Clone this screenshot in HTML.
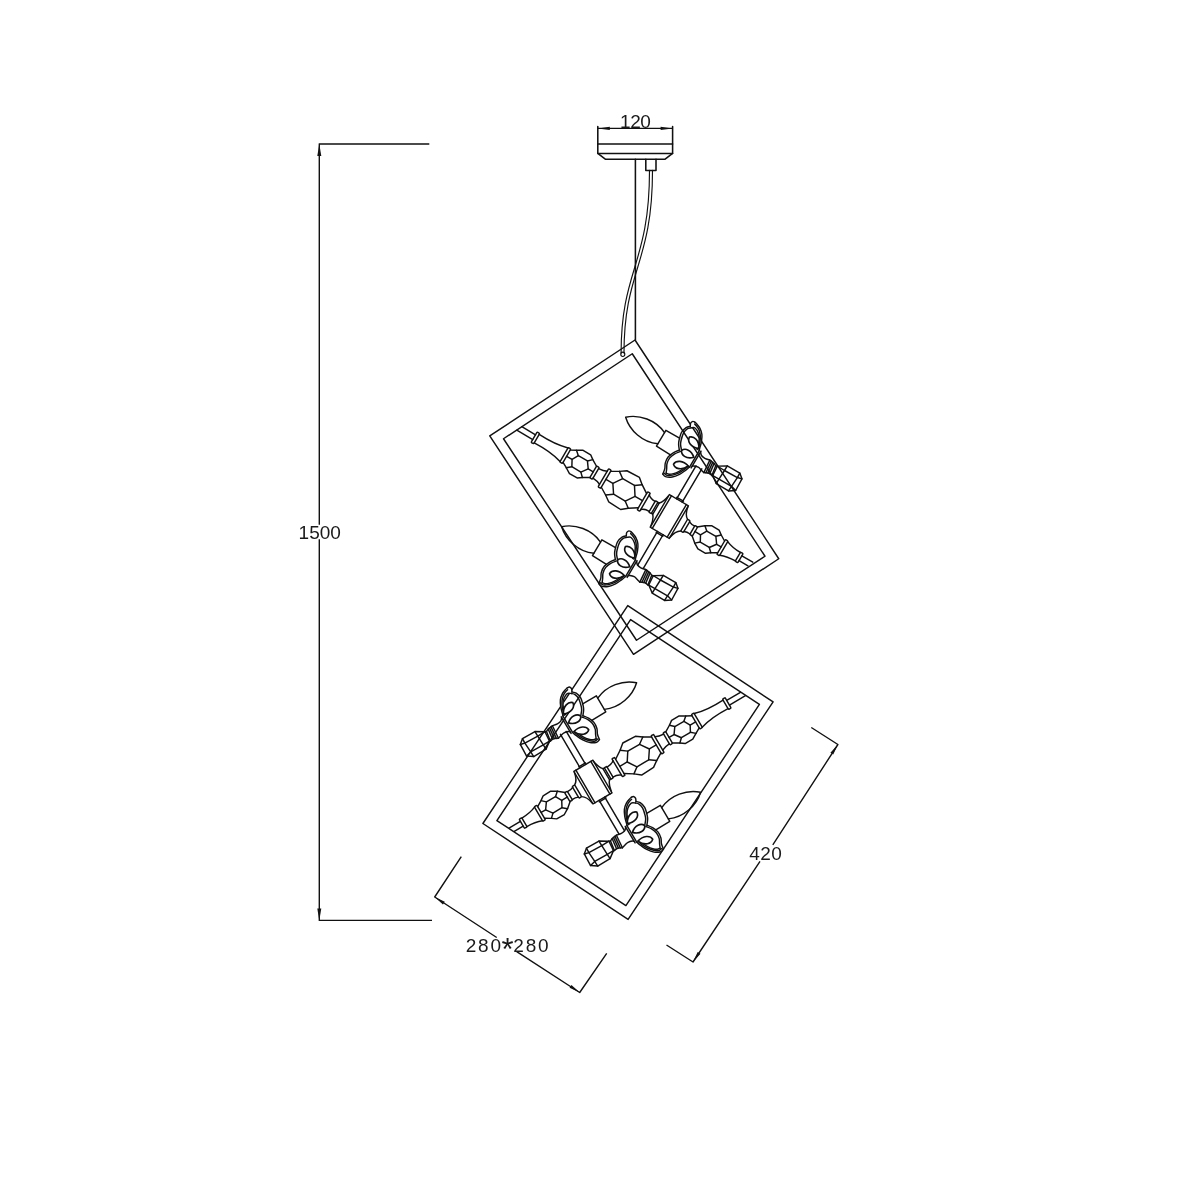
<!DOCTYPE html>
<html lang="en">
<head>
<meta charset="utf-8">
<title>Pendant lamp dimension drawing</title>
<style>
html,body{margin:0;padding:0;background:#fff;}
body{width:1200px;height:1200px;overflow:hidden;}
svg{display:block;will-change:transform;}
svg path,svg rect,svg ellipse{fill:none;stroke:#111;stroke-width:1.45;stroke-linejoin:round;stroke-linecap:round;}
svg .can path{stroke-width:1.55;}
svg .ast{font-size:31px;letter-spacing:-1.5px;}
svg path.sil{fill:#fff;stroke:none;}
svg path.pet{fill:#fff;stroke-width:1.65;}
svg path.arr{fill:#111;stroke:none;}
svg .dim path{stroke-width:1.4;stroke-linecap:butt;}
svg .cab path, svg .cab ellipse{stroke-width:1.15;}
svg text{font-family:"Liberation Sans",sans-serif;font-size:19px;fill:#1a1a1a;}
</style>
</head>
<body>
<svg width="1200" height="1200" viewBox="0 0 1200 1200">
<rect x="0" y="0" width="1200" height="1200" style="fill:#fff;stroke:none"/>
<g class="lamp">
<path d="M635,340 L778.75,558.75 L633.5,654.3 L489.75,435.9Z"/>
<path d="M632.25,353.75 L765,556.25 L636.5,640.25 L503.5,438.75Z"/>
<g transform="translate(634.78,496.23) rotate(30.4)">
<path d="M-132.6,-2.8 L-116.7,-2.8 M-135.2,2.7 L-116.7,2.7"/>
<path d="M122.5,-2.8 L135.2,-2.8 M122.5,2.7 L132.8,2.7"/>
<rect x="-116.7" y="-6" width="3" height="12" rx="0.8"/>
<path d="M-113.7,-4.9 Q-95,-4 -82,-7.9 M-113.7,4.9 Q-95,4 -82,7.9"/>
<rect x="-82" y="-8.4" width="3" height="16.8" rx="0.8"/>
<path d="M-79,-7.1 L-73.5,-10.1 L-67.8,-13.5 L-59,-13.4 L-54.7,-10.3 L-48.2,-6.5"/>
<path d="M-48.2,6.5 L-54.7,10.3 L-59,13.4 L-67.8,13.5 L-73.5,10.1 L-79,7.1"/>
<path d="M-72.7,0 L-69.2,-6.4 L-58.7,-6.5 L-54,0 L-58.7,6.5 L-69.2,6.4Z"/>
<path d="M-72.7,0 L-79,0 M-54,0 L-48.2,0 M-69.2,-6.4 L-73.5,-10.1 M-58.7,-6.5 L-54.7,-10.3 M-69.2,6.4 L-73.5,10.1 M-58.7,6.5 L-54.7,10.3"/>
<rect x="-48.2" y="-6.9" width="3" height="13.8" rx="0.8"/>
<path d="M-45.2,-5.6 Q-40,-5.8 -36.4,-7.7 M-45.2,5.6 Q-40,5.8 -36.4,7.7"/>
<rect x="-36.4" y="-10.5" width="3" height="21" rx="0.8"/>
<path d="M-33.4,-9.2 L-25.8,-13.7 L-19.7,-18 L-5.5,-18.6 L0.5,-13.7 L8.9,-8.2"/>
<path d="M8.9,8.2 L0.5,13.7 L-5.5,18.6 L-19.7,18 L-25.8,13.7 L-33.4,9.2"/>
<path d="M-25.4,0 L-19.3,-9 L-5.7,-9.1 L0.3,0 L-5.7,9.1 L-19.3,9Z"/>
<path d="M-25.4,0 L-33.4,0 M0.3,0 L8.9,0 M-19.3,-9 L-25.8,-13.7 M-5.7,-9.1 L0.5,-13.7 M-19.3,9 L-25.8,13.7 M-5.7,9.1 L0.5,13.7"/>
<rect x="8.9" y="-10.4" width="3" height="20.8" rx="0.8"/>
<path d="M11.9,-8.4 Q15,-5.6 20.2,-5.8 M11.9,8.4 Q15,5.6 20.2,5.8"/>
<rect x="20.2" y="-6.6" width="2.8" height="13.2" rx="0.8"/>
<path d="M23,-6.4 L24.6,-6.4 M23,6.4 L24.6,6.4 M24.6,-6.6 L24.6,6.6"/>
<path d="M24.6,-6.6 Q27.6,-9.3 28.9,-17.2 M24.6,6.6 Q27.6,9.3 28.9,17.2"/>
<rect x="29" y="-18.9" width="22.1" height="37.8"/>
<path d="M31.4,-18.9 L31.4,18.9 M48.7,-18.9 L48.7,18.9"/>
<path d="M51.2,-17.6 Q52.6,-9.4 57.2,-6.8 M51.2,17.6 Q52.6,9.4 57.2,6.8"/>
<rect x="57.2" y="-6.8" width="3" height="13.6" rx="0.8"/>
<path d="M60.2,-5.6 Q63,-4.2 66.8,-4.6 M60.2,5.6 Q63,4.2 66.8,4.6"/>
<rect x="66.8" y="-5.2" width="3" height="10.4" rx="0.8"/>
<path d="M69.3,-5 L75.4,-10.1 L81.1,-13.5 L89.9,-13.4 L94.2,-10.3 L100.1,-6.8"/>
<path d="M100.1,6.8 L94.2,10.3 L89.9,13.4 L81.1,13.5 L75.4,10.1 L69.3,5"/>
<path d="M76.2,0 L79.7,-6.4 L90.2,-6.5 L94.9,0 L90.2,6.5 L79.7,6.4Z"/>
<path d="M76.2,0 L69.5,0 M94.9,0 L100.1,0 M79.7,-6.4 L75.4,-10.1 M90.2,-6.5 L94.2,-10.3 M79.7,6.4 L75.4,10.1 M90.2,6.5 L94.2,10.3"/>
<rect x="100.1" y="-8.5" width="3" height="17" rx="0.8"/>
<path d="M103.1,-7.9 Q110,-5 119.5,-4.9 M103.1,7.9 Q110,5 119.5,4.9"/>
<rect x="119.5" y="-5.3" width="3" height="10.6" rx="0.8"/>
<path d="M37.4,-18.9 L37.4,-57.2 M43.9,-18.9 L43.9,-57.6 M37.4,18.9 L37.4,58 M43.9,18.9 L43.9,57.6"/>
<path d="M36.8,-20.3 L44.5,-20.3 M36.8,20.3 L44.5,20.3"/>
</g>
<g transform="translate(597.2,547.7) rotate(30.6)">
<path d="M0,-6.5 C-14,-13 -31,-9.5 -41.3,0 C-31,9.5 -14,13 0,6.5"/>
<path d="M15.8,-9.3 L0,-9.2 L0,9.3 L16.4,9.6"/>
<path class="sil" d="M19,-25 C18.78,-25.52 17.75,-27.17 17.7,-28.1 C17.65,-29.03 18.18,-30.13 18.7,-30.6 C19.22,-31.07 20.07,-30.93 20.8,-30.9 C21.53,-30.87 21.88,-30.82 23.1,-30.4 C24.32,-29.98 26.45,-29.45 28.1,-28.4 C29.75,-27.35 31.63,-25.87 33,-24.1 C34.37,-22.33 35.43,-19.95 36.3,-17.8 C37.17,-15.65 37.78,-12.73 38.2,-11.2 C38.62,-9.67 38.7,-9.03 38.8,-8.6 L36,-8.8 L35.5,-12.5 L33.2,-18.6 L29.5,-23.2 L23.9,-26 L20.3,-24Z"/>
<path d="M21.7,1 C21.13,0.28 19.17,-1.95 18.3,-3.3 C17.43,-4.65 17.13,-5.07 16.5,-7.1 C15.87,-9.13 14.58,-13.05 14.5,-15.5 C14.42,-17.95 15.25,-20.22 16,-21.8 C16.75,-23.38 18.5,-24.47 19,-25"/>
<path d="M23.5,-0.1 C22.92,-0.8 20.87,-2.97 20,-4.3 C19.13,-5.63 18.87,-6.17 18.3,-8.1 C17.73,-10.03 16.7,-13.72 16.6,-15.9 C16.5,-18.08 17.08,-19.85 17.7,-21.2 C18.32,-22.55 19.87,-23.53 20.3,-24"/>
<path d="M19,-25 C18.78,-25.52 17.75,-27.17 17.7,-28.1 C17.65,-29.03 18.18,-30.13 18.7,-30.6 C19.22,-31.07 20.45,-30.85 20.8,-30.9"/>
<path d="M20.8,-30.9 C21.18,-30.82 21.88,-30.82 23.1,-30.4 C24.32,-29.98 26.45,-29.45 28.1,-28.4 C29.75,-27.35 31.63,-25.87 33,-24.1 C34.37,-22.33 35.43,-19.95 36.3,-17.8 C37.17,-15.65 37.78,-12.73 38.2,-11.2 C38.62,-9.67 38.7,-9.03 38.8,-8.6"/>
<path d="M21.6,-29.2 C21.98,-29.1 22.83,-29.03 23.9,-28.6 C24.97,-28.17 26.65,-27.6 28,-26.6 C29.35,-25.6 30.83,-24.17 32,-22.6 C33.17,-21.03 34.2,-19.07 35,-17.2 C35.8,-15.33 36.43,-12.8 36.8,-11.4 C37.17,-10 37.13,-9.23 37.2,-8.8"/>
<path d="M20.3,-24 C20.9,-24.33 22.37,-26.13 23.9,-26 C25.43,-25.87 27.95,-24.43 29.5,-23.2 C31.05,-21.97 32.2,-20.38 33.2,-18.6 C34.2,-16.82 35.03,-14.13 35.5,-12.5 C35.97,-10.87 35.92,-9.42 36,-8.8"/>
<path d="M21.7,1 C21.08,1.83 19.02,4.1 18,6 C16.98,7.9 15.92,10.22 15.6,12.4 C15.28,14.58 15.6,17.1 16.1,19.1 C16.6,21.1 18.02,22.58 18.6,24.4 C19.18,26.22 19.43,29.07 19.6,30"/>
<path d="M23.3,1.6 C22.68,2.43 20.58,4.77 19.6,6.6 C18.62,8.43 17.68,10.57 17.4,12.6 C17.12,14.63 17.42,16.97 17.9,18.8 C18.38,20.63 19.62,22.13 20.3,23.6 C20.98,25.07 21.72,26.93 22,27.6"/>
<path d="M19.6,30 C20.22,30.15 21.7,31.27 23.3,30.9 C24.9,30.53 27.38,29.32 29.2,27.8 C31.02,26.28 32.85,23.88 34.2,21.8 C35.55,19.72 36.48,17.23 37.3,15.3 C38.12,13.37 38.8,11.05 39.1,10.2"/>
<path d="M20.6,28.6 C21.17,28.67 22.67,29.43 24,29 C25.33,28.57 27.1,27.37 28.6,26 C30.1,24.63 31.77,22.67 33,20.8 C34.23,18.93 35.23,16.57 36,14.8 C36.77,13.03 37.33,10.97 37.6,10.2"/>
<path d="M22,27.6 C22.5,27.5 23.9,27.57 25,27 C26.1,26.43 27.43,25.4 28.6,24.2 C29.77,23 31,21.43 32,19.8 C33,18.17 33.93,16.03 34.6,14.4 C35.27,12.77 35.77,10.73 36,10"/>
<path class="pet" d="M-7.4,0 C-5.55,-4.44 1.48,-5.55 7.4,-0.37 C1.48,5.55 -5.55,4.44 -7.4,0Z" transform="translate(30.6,-12.7) rotate(21)"/>
<path class="pet" d="M-7,0 C-5.25,-4.32 1.4,-5.4 7,-0.36 C1.4,5.4 -5.25,4.32 -7,0Z" transform="translate(30.8,0.2) rotate(0)"/>
<path class="pet" d="M-7.4,0 C-5.55,-4.32 1.48,-5.4 7.4,-0.36 C1.48,5.4 -5.55,4.32 -7.4,0Z" transform="translate(30.7,13.3) rotate(-22)"/>
<path d="M39.1,-9.3 L39.1,10.2 M40.9,-9.1 L40.9,10.3"/>
<path d="M40.9,-8.2 C41.33,-7.77 42.35,-6.15 43.5,-5.6 C44.65,-5.05 46.22,-4.85 47.8,-4.9 C49.38,-4.95 52.13,-5.73 53,-5.9"/>
<path d="M40.9,8.4 C41.13,8.2 41.35,7.58 42.3,7.2 C43.25,6.82 45.27,6.17 46.6,6.1 C47.93,6.03 49.03,6.5 50.3,6.8 C51.57,7.1 53.55,7.72 54.2,7.9"/>
<path d="M53,-5.9 L54.2,7.9 M54.8,-5.9 L56.1,7.0 M56.6,-5.7 L57.9,6.2 M58.4,-5.2 L59.8,5.8"/>
<path d="M53,-5.9 L58.4,-5.2 L61,-4.0 L62.5,-4.5 M54.2,7.9 L57.9,6.2 L59.8,5.8 L62.6,6.3 L63.4,5.9"/>
<path d="M61,-4.0 L62.6,6.3"/>
<path d="M62.5,-4.5 L71,-9.8 L85.4,-10 L90.2,-6.1 L90.7,7.1 L84.8,11.1 L70.4,11 L63.4,5.9Z"/>
<path d="M71,-9.8 L70.9,-4.4 L70.6,5.9 L70.4,11 M85.4,-10 L85.6,-4.9 L85,5.6 L84.8,11.1"/>
<path d="M62.5,-4.5 L70.9,-4.4 L85.6,-4.9 L90.2,-6.1 M63.4,5.9 L70.6,5.9 L85,5.6 L90.7,7.1"/>
</g>
<g transform="translate(661.2,438.2) rotate(30.6)">
<path d="M0,-6.5 C-14,-13 -31,-9.5 -41.3,0 C-31,9.5 -14,13 0,6.5"/>
<path d="M15.8,-9.3 L0,-9.2 L0,9.3 L16.4,9.6"/>
<path class="sil" d="M19,-25 C18.78,-25.52 17.75,-27.17 17.7,-28.1 C17.65,-29.03 18.18,-30.13 18.7,-30.6 C19.22,-31.07 20.07,-30.93 20.8,-30.9 C21.53,-30.87 21.88,-30.82 23.1,-30.4 C24.32,-29.98 26.45,-29.45 28.1,-28.4 C29.75,-27.35 31.63,-25.87 33,-24.1 C34.37,-22.33 35.43,-19.95 36.3,-17.8 C37.17,-15.65 37.78,-12.73 38.2,-11.2 C38.62,-9.67 38.7,-9.03 38.8,-8.6 L36,-8.8 L35.5,-12.5 L33.2,-18.6 L29.5,-23.2 L23.9,-26 L20.3,-24Z"/>
<path d="M21.7,1 C21.13,0.28 19.17,-1.95 18.3,-3.3 C17.43,-4.65 17.13,-5.07 16.5,-7.1 C15.87,-9.13 14.58,-13.05 14.5,-15.5 C14.42,-17.95 15.25,-20.22 16,-21.8 C16.75,-23.38 18.5,-24.47 19,-25"/>
<path d="M23.5,-0.1 C22.92,-0.8 20.87,-2.97 20,-4.3 C19.13,-5.63 18.87,-6.17 18.3,-8.1 C17.73,-10.03 16.7,-13.72 16.6,-15.9 C16.5,-18.08 17.08,-19.85 17.7,-21.2 C18.32,-22.55 19.87,-23.53 20.3,-24"/>
<path d="M19,-25 C18.78,-25.52 17.75,-27.17 17.7,-28.1 C17.65,-29.03 18.18,-30.13 18.7,-30.6 C19.22,-31.07 20.45,-30.85 20.8,-30.9"/>
<path d="M20.8,-30.9 C21.18,-30.82 21.88,-30.82 23.1,-30.4 C24.32,-29.98 26.45,-29.45 28.1,-28.4 C29.75,-27.35 31.63,-25.87 33,-24.1 C34.37,-22.33 35.43,-19.95 36.3,-17.8 C37.17,-15.65 37.78,-12.73 38.2,-11.2 C38.62,-9.67 38.7,-9.03 38.8,-8.6"/>
<path d="M21.6,-29.2 C21.98,-29.1 22.83,-29.03 23.9,-28.6 C24.97,-28.17 26.65,-27.6 28,-26.6 C29.35,-25.6 30.83,-24.17 32,-22.6 C33.17,-21.03 34.2,-19.07 35,-17.2 C35.8,-15.33 36.43,-12.8 36.8,-11.4 C37.17,-10 37.13,-9.23 37.2,-8.8"/>
<path d="M20.3,-24 C20.9,-24.33 22.37,-26.13 23.9,-26 C25.43,-25.87 27.95,-24.43 29.5,-23.2 C31.05,-21.97 32.2,-20.38 33.2,-18.6 C34.2,-16.82 35.03,-14.13 35.5,-12.5 C35.97,-10.87 35.92,-9.42 36,-8.8"/>
<path d="M21.7,1 C21.08,1.83 19.02,4.1 18,6 C16.98,7.9 15.92,10.22 15.6,12.4 C15.28,14.58 15.6,17.1 16.1,19.1 C16.6,21.1 18.02,22.58 18.6,24.4 C19.18,26.22 19.43,29.07 19.6,30"/>
<path d="M23.3,1.6 C22.68,2.43 20.58,4.77 19.6,6.6 C18.62,8.43 17.68,10.57 17.4,12.6 C17.12,14.63 17.42,16.97 17.9,18.8 C18.38,20.63 19.62,22.13 20.3,23.6 C20.98,25.07 21.72,26.93 22,27.6"/>
<path d="M19.6,30 C20.22,30.15 21.7,31.27 23.3,30.9 C24.9,30.53 27.38,29.32 29.2,27.8 C31.02,26.28 32.85,23.88 34.2,21.8 C35.55,19.72 36.48,17.23 37.3,15.3 C38.12,13.37 38.8,11.05 39.1,10.2"/>
<path d="M20.6,28.6 C21.17,28.67 22.67,29.43 24,29 C25.33,28.57 27.1,27.37 28.6,26 C30.1,24.63 31.77,22.67 33,20.8 C34.23,18.93 35.23,16.57 36,14.8 C36.77,13.03 37.33,10.97 37.6,10.2"/>
<path d="M22,27.6 C22.5,27.5 23.9,27.57 25,27 C26.1,26.43 27.43,25.4 28.6,24.2 C29.77,23 31,21.43 32,19.8 C33,18.17 33.93,16.03 34.6,14.4 C35.27,12.77 35.77,10.73 36,10"/>
<path class="pet" d="M-7.4,0 C-5.55,-4.44 1.48,-5.55 7.4,-0.37 C1.48,5.55 -5.55,4.44 -7.4,0Z" transform="translate(30.6,-12.7) rotate(21)"/>
<path class="pet" d="M-7,0 C-5.25,-4.32 1.4,-5.4 7,-0.36 C1.4,5.4 -5.25,4.32 -7,0Z" transform="translate(30.8,0.2) rotate(0)"/>
<path class="pet" d="M-7.4,0 C-5.55,-4.32 1.48,-5.4 7.4,-0.36 C1.48,5.4 -5.55,4.32 -7.4,0Z" transform="translate(30.7,13.3) rotate(-22)"/>
<path d="M39.1,-9.3 L39.1,10.2 M40.9,-9.1 L40.9,10.3"/>
<path d="M40.9,-8.2 C41.33,-7.77 42.35,-6.15 43.5,-5.6 C44.65,-5.05 46.22,-4.85 47.8,-4.9 C49.38,-4.95 52.13,-5.73 53,-5.9"/>
<path d="M40.9,8.4 C41.13,8.2 41.35,7.58 42.3,7.2 C43.25,6.82 45.27,6.17 46.6,6.1 C47.93,6.03 49.03,6.5 50.3,6.8 C51.57,7.1 53.55,7.72 54.2,7.9"/>
<path d="M53,-5.9 L54.2,7.9 M54.8,-5.9 L56.1,7.0 M56.6,-5.7 L57.9,6.2 M58.4,-5.2 L59.8,5.8"/>
<path d="M53,-5.9 L58.4,-5.2 L61,-4.0 L62.5,-4.5 M54.2,7.9 L57.9,6.2 L59.8,5.8 L62.6,6.3 L63.4,5.9"/>
<path d="M61,-4.0 L62.6,6.3"/>
<path d="M62.5,-4.5 L71,-9.8 L85.4,-10 L90.2,-6.1 L90.7,7.1 L84.8,11.1 L70.4,11 L63.4,5.9Z"/>
<path d="M71,-9.8 L70.9,-4.4 L70.6,5.9 L70.4,11 M85.4,-10 L85.6,-4.9 L85,5.6 L84.8,11.1"/>
<path d="M62.5,-4.5 L70.9,-4.4 L85.6,-4.9 L90.2,-6.1 M63.4,5.9 L70.6,5.9 L85,5.6 L90.7,7.1"/>
</g>
</g>
<g class="lamp">
<path d="M627.75,605.6 L773.1,701.9 L628.1,919.4 L482.9,823.5Z"/>
<path d="M630.6,619.6 L759.4,704.4 L625.9,905.6 L496.9,820.6Z"/>
</g>
<g class="lamp" transform="translate(1262.25,265.6) scale(-1,1)">
<g transform="translate(634.78,496.23) rotate(30.4)">
<path d="M-132.6,-2.8 L-116.7,-2.8 M-135.2,2.7 L-116.7,2.7"/>
<path d="M122.5,-2.8 L135.2,-2.8 M122.5,2.7 L132.8,2.7"/>
<rect x="-116.7" y="-6" width="3" height="12" rx="0.8"/>
<path d="M-113.7,-4.9 Q-95,-4 -82,-7.9 M-113.7,4.9 Q-95,4 -82,7.9"/>
<rect x="-82" y="-8.4" width="3" height="16.8" rx="0.8"/>
<path d="M-79,-7.1 L-73.5,-10.1 L-67.8,-13.5 L-59,-13.4 L-54.7,-10.3 L-48.2,-6.5"/>
<path d="M-48.2,6.5 L-54.7,10.3 L-59,13.4 L-67.8,13.5 L-73.5,10.1 L-79,7.1"/>
<path d="M-72.7,0 L-69.2,-6.4 L-58.7,-6.5 L-54,0 L-58.7,6.5 L-69.2,6.4Z"/>
<path d="M-72.7,0 L-79,0 M-54,0 L-48.2,0 M-69.2,-6.4 L-73.5,-10.1 M-58.7,-6.5 L-54.7,-10.3 M-69.2,6.4 L-73.5,10.1 M-58.7,6.5 L-54.7,10.3"/>
<rect x="-48.2" y="-6.9" width="3" height="13.8" rx="0.8"/>
<path d="M-45.2,-5.6 Q-40,-5.8 -36.4,-7.7 M-45.2,5.6 Q-40,5.8 -36.4,7.7"/>
<rect x="-36.4" y="-10.5" width="3" height="21" rx="0.8"/>
<path d="M-33.4,-9.2 L-25.8,-13.7 L-19.7,-18 L-5.5,-18.6 L0.5,-13.7 L8.9,-8.2"/>
<path d="M8.9,8.2 L0.5,13.7 L-5.5,18.6 L-19.7,18 L-25.8,13.7 L-33.4,9.2"/>
<path d="M-25.4,0 L-19.3,-9 L-5.7,-9.1 L0.3,0 L-5.7,9.1 L-19.3,9Z"/>
<path d="M-25.4,0 L-33.4,0 M0.3,0 L8.9,0 M-19.3,-9 L-25.8,-13.7 M-5.7,-9.1 L0.5,-13.7 M-19.3,9 L-25.8,13.7 M-5.7,9.1 L0.5,13.7"/>
<rect x="8.9" y="-10.4" width="3" height="20.8" rx="0.8"/>
<path d="M11.9,-8.4 Q15,-5.6 20.2,-5.8 M11.9,8.4 Q15,5.6 20.2,5.8"/>
<rect x="20.2" y="-6.6" width="2.8" height="13.2" rx="0.8"/>
<path d="M23,-6.4 L24.6,-6.4 M23,6.4 L24.6,6.4 M24.6,-6.6 L24.6,6.6"/>
<path d="M24.6,-6.6 Q27.6,-9.3 28.9,-17.2 M24.6,6.6 Q27.6,9.3 28.9,17.2"/>
<rect x="29" y="-18.9" width="22.1" height="37.8"/>
<path d="M31.4,-18.9 L31.4,18.9 M48.7,-18.9 L48.7,18.9"/>
<path d="M51.2,-17.6 Q52.6,-9.4 57.2,-6.8 M51.2,17.6 Q52.6,9.4 57.2,6.8"/>
<rect x="57.2" y="-6.8" width="3" height="13.6" rx="0.8"/>
<path d="M60.2,-5.6 Q63,-4.2 66.8,-4.6 M60.2,5.6 Q63,4.2 66.8,4.6"/>
<rect x="66.8" y="-5.2" width="3" height="10.4" rx="0.8"/>
<path d="M69.3,-5 L75.4,-10.1 L81.1,-13.5 L89.9,-13.4 L94.2,-10.3 L100.1,-6.8"/>
<path d="M100.1,6.8 L94.2,10.3 L89.9,13.4 L81.1,13.5 L75.4,10.1 L69.3,5"/>
<path d="M76.2,0 L79.7,-6.4 L90.2,-6.5 L94.9,0 L90.2,6.5 L79.7,6.4Z"/>
<path d="M76.2,0 L69.5,0 M94.9,0 L100.1,0 M79.7,-6.4 L75.4,-10.1 M90.2,-6.5 L94.2,-10.3 M79.7,6.4 L75.4,10.1 M90.2,6.5 L94.2,10.3"/>
<rect x="100.1" y="-8.5" width="3" height="17" rx="0.8"/>
<path d="M103.1,-7.9 Q110,-5 119.5,-4.9 M103.1,7.9 Q110,5 119.5,4.9"/>
<rect x="119.5" y="-5.3" width="3" height="10.6" rx="0.8"/>
<path d="M37.4,-18.9 L37.4,-57.2 M43.9,-18.9 L43.9,-57.6 M37.4,18.9 L37.4,58 M43.9,18.9 L43.9,57.6"/>
<path d="M36.8,-20.3 L44.5,-20.3 M36.8,20.3 L44.5,20.3"/>
</g>
<g transform="translate(597.2,547.7) rotate(30.6)">
<path d="M0,-6.5 C-14,-13 -31,-9.5 -41.3,0 C-31,9.5 -14,13 0,6.5"/>
<path d="M15.8,-9.3 L0,-9.2 L0,9.3 L16.4,9.6"/>
<path class="sil" d="M19,-25 C18.78,-25.52 17.75,-27.17 17.7,-28.1 C17.65,-29.03 18.18,-30.13 18.7,-30.6 C19.22,-31.07 20.07,-30.93 20.8,-30.9 C21.53,-30.87 21.88,-30.82 23.1,-30.4 C24.32,-29.98 26.45,-29.45 28.1,-28.4 C29.75,-27.35 31.63,-25.87 33,-24.1 C34.37,-22.33 35.43,-19.95 36.3,-17.8 C37.17,-15.65 37.78,-12.73 38.2,-11.2 C38.62,-9.67 38.7,-9.03 38.8,-8.6 L36,-8.8 L35.5,-12.5 L33.2,-18.6 L29.5,-23.2 L23.9,-26 L20.3,-24Z"/>
<path d="M21.7,1 C21.13,0.28 19.17,-1.95 18.3,-3.3 C17.43,-4.65 17.13,-5.07 16.5,-7.1 C15.87,-9.13 14.58,-13.05 14.5,-15.5 C14.42,-17.95 15.25,-20.22 16,-21.8 C16.75,-23.38 18.5,-24.47 19,-25"/>
<path d="M23.5,-0.1 C22.92,-0.8 20.87,-2.97 20,-4.3 C19.13,-5.63 18.87,-6.17 18.3,-8.1 C17.73,-10.03 16.7,-13.72 16.6,-15.9 C16.5,-18.08 17.08,-19.85 17.7,-21.2 C18.32,-22.55 19.87,-23.53 20.3,-24"/>
<path d="M19,-25 C18.78,-25.52 17.75,-27.17 17.7,-28.1 C17.65,-29.03 18.18,-30.13 18.7,-30.6 C19.22,-31.07 20.45,-30.85 20.8,-30.9"/>
<path d="M20.8,-30.9 C21.18,-30.82 21.88,-30.82 23.1,-30.4 C24.32,-29.98 26.45,-29.45 28.1,-28.4 C29.75,-27.35 31.63,-25.87 33,-24.1 C34.37,-22.33 35.43,-19.95 36.3,-17.8 C37.17,-15.65 37.78,-12.73 38.2,-11.2 C38.62,-9.67 38.7,-9.03 38.8,-8.6"/>
<path d="M21.6,-29.2 C21.98,-29.1 22.83,-29.03 23.9,-28.6 C24.97,-28.17 26.65,-27.6 28,-26.6 C29.35,-25.6 30.83,-24.17 32,-22.6 C33.17,-21.03 34.2,-19.07 35,-17.2 C35.8,-15.33 36.43,-12.8 36.8,-11.4 C37.17,-10 37.13,-9.23 37.2,-8.8"/>
<path d="M20.3,-24 C20.9,-24.33 22.37,-26.13 23.9,-26 C25.43,-25.87 27.95,-24.43 29.5,-23.2 C31.05,-21.97 32.2,-20.38 33.2,-18.6 C34.2,-16.82 35.03,-14.13 35.5,-12.5 C35.97,-10.87 35.92,-9.42 36,-8.8"/>
<path d="M21.7,1 C21.08,1.83 19.02,4.1 18,6 C16.98,7.9 15.92,10.22 15.6,12.4 C15.28,14.58 15.6,17.1 16.1,19.1 C16.6,21.1 18.02,22.58 18.6,24.4 C19.18,26.22 19.43,29.07 19.6,30"/>
<path d="M23.3,1.6 C22.68,2.43 20.58,4.77 19.6,6.6 C18.62,8.43 17.68,10.57 17.4,12.6 C17.12,14.63 17.42,16.97 17.9,18.8 C18.38,20.63 19.62,22.13 20.3,23.6 C20.98,25.07 21.72,26.93 22,27.6"/>
<path d="M19.6,30 C20.22,30.15 21.7,31.27 23.3,30.9 C24.9,30.53 27.38,29.32 29.2,27.8 C31.02,26.28 32.85,23.88 34.2,21.8 C35.55,19.72 36.48,17.23 37.3,15.3 C38.12,13.37 38.8,11.05 39.1,10.2"/>
<path d="M20.6,28.6 C21.17,28.67 22.67,29.43 24,29 C25.33,28.57 27.1,27.37 28.6,26 C30.1,24.63 31.77,22.67 33,20.8 C34.23,18.93 35.23,16.57 36,14.8 C36.77,13.03 37.33,10.97 37.6,10.2"/>
<path d="M22,27.6 C22.5,27.5 23.9,27.57 25,27 C26.1,26.43 27.43,25.4 28.6,24.2 C29.77,23 31,21.43 32,19.8 C33,18.17 33.93,16.03 34.6,14.4 C35.27,12.77 35.77,10.73 36,10"/>
<path class="pet" d="M-7.4,0 C-5.55,-4.44 1.48,-5.55 7.4,-0.37 C1.48,5.55 -5.55,4.44 -7.4,0Z" transform="translate(30.6,-12.7) rotate(21)"/>
<path class="pet" d="M-7,0 C-5.25,-4.32 1.4,-5.4 7,-0.36 C1.4,5.4 -5.25,4.32 -7,0Z" transform="translate(30.8,0.2) rotate(0)"/>
<path class="pet" d="M-7.4,0 C-5.55,-4.32 1.48,-5.4 7.4,-0.36 C1.48,5.4 -5.55,4.32 -7.4,0Z" transform="translate(30.7,13.3) rotate(-22)"/>
<path d="M39.1,-9.3 L39.1,10.2 M40.9,-9.1 L40.9,10.3"/>
<path d="M40.9,-8.2 C41.33,-7.77 42.35,-6.15 43.5,-5.6 C44.65,-5.05 46.22,-4.85 47.8,-4.9 C49.38,-4.95 52.13,-5.73 53,-5.9"/>
<path d="M40.9,8.4 C41.13,8.2 41.35,7.58 42.3,7.2 C43.25,6.82 45.27,6.17 46.6,6.1 C47.93,6.03 49.03,6.5 50.3,6.8 C51.57,7.1 53.55,7.72 54.2,7.9"/>
<path d="M53,-5.9 L54.2,7.9 M54.8,-5.9 L56.1,7.0 M56.6,-5.7 L57.9,6.2 M58.4,-5.2 L59.8,5.8"/>
<path d="M53,-5.9 L58.4,-5.2 L61,-4.0 L62.5,-4.5 M54.2,7.9 L57.9,6.2 L59.8,5.8 L62.6,6.3 L63.4,5.9"/>
<path d="M61,-4.0 L62.6,6.3"/>
<path d="M62.5,-4.5 L71,-9.8 L85.4,-10 L90.2,-6.1 L90.7,7.1 L84.8,11.1 L70.4,11 L63.4,5.9Z"/>
<path d="M71,-9.8 L70.9,-4.4 L70.6,5.9 L70.4,11 M85.4,-10 L85.6,-4.9 L85,5.6 L84.8,11.1"/>
<path d="M62.5,-4.5 L70.9,-4.4 L85.6,-4.9 L90.2,-6.1 M63.4,5.9 L70.6,5.9 L85,5.6 L90.7,7.1"/>
</g>
<g transform="translate(661.2,438.2) rotate(30.6)">
<path d="M0,-6.5 C-14,-13 -31,-9.5 -41.3,0 C-31,9.5 -14,13 0,6.5"/>
<path d="M15.8,-9.3 L0,-9.2 L0,9.3 L16.4,9.6"/>
<path class="sil" d="M19,-25 C18.78,-25.52 17.75,-27.17 17.7,-28.1 C17.65,-29.03 18.18,-30.13 18.7,-30.6 C19.22,-31.07 20.07,-30.93 20.8,-30.9 C21.53,-30.87 21.88,-30.82 23.1,-30.4 C24.32,-29.98 26.45,-29.45 28.1,-28.4 C29.75,-27.35 31.63,-25.87 33,-24.1 C34.37,-22.33 35.43,-19.95 36.3,-17.8 C37.17,-15.65 37.78,-12.73 38.2,-11.2 C38.62,-9.67 38.7,-9.03 38.8,-8.6 L36,-8.8 L35.5,-12.5 L33.2,-18.6 L29.5,-23.2 L23.9,-26 L20.3,-24Z"/>
<path d="M21.7,1 C21.13,0.28 19.17,-1.95 18.3,-3.3 C17.43,-4.65 17.13,-5.07 16.5,-7.1 C15.87,-9.13 14.58,-13.05 14.5,-15.5 C14.42,-17.95 15.25,-20.22 16,-21.8 C16.75,-23.38 18.5,-24.47 19,-25"/>
<path d="M23.5,-0.1 C22.92,-0.8 20.87,-2.97 20,-4.3 C19.13,-5.63 18.87,-6.17 18.3,-8.1 C17.73,-10.03 16.7,-13.72 16.6,-15.9 C16.5,-18.08 17.08,-19.85 17.7,-21.2 C18.32,-22.55 19.87,-23.53 20.3,-24"/>
<path d="M19,-25 C18.78,-25.52 17.75,-27.17 17.7,-28.1 C17.65,-29.03 18.18,-30.13 18.7,-30.6 C19.22,-31.07 20.45,-30.85 20.8,-30.9"/>
<path d="M20.8,-30.9 C21.18,-30.82 21.88,-30.82 23.1,-30.4 C24.32,-29.98 26.45,-29.45 28.1,-28.4 C29.75,-27.35 31.63,-25.87 33,-24.1 C34.37,-22.33 35.43,-19.95 36.3,-17.8 C37.17,-15.65 37.78,-12.73 38.2,-11.2 C38.62,-9.67 38.7,-9.03 38.8,-8.6"/>
<path d="M21.6,-29.2 C21.98,-29.1 22.83,-29.03 23.9,-28.6 C24.97,-28.17 26.65,-27.6 28,-26.6 C29.35,-25.6 30.83,-24.17 32,-22.6 C33.17,-21.03 34.2,-19.07 35,-17.2 C35.8,-15.33 36.43,-12.8 36.8,-11.4 C37.17,-10 37.13,-9.23 37.2,-8.8"/>
<path d="M20.3,-24 C20.9,-24.33 22.37,-26.13 23.9,-26 C25.43,-25.87 27.95,-24.43 29.5,-23.2 C31.05,-21.97 32.2,-20.38 33.2,-18.6 C34.2,-16.82 35.03,-14.13 35.5,-12.5 C35.97,-10.87 35.92,-9.42 36,-8.8"/>
<path d="M21.7,1 C21.08,1.83 19.02,4.1 18,6 C16.98,7.9 15.92,10.22 15.6,12.4 C15.28,14.58 15.6,17.1 16.1,19.1 C16.6,21.1 18.02,22.58 18.6,24.4 C19.18,26.22 19.43,29.07 19.6,30"/>
<path d="M23.3,1.6 C22.68,2.43 20.58,4.77 19.6,6.6 C18.62,8.43 17.68,10.57 17.4,12.6 C17.12,14.63 17.42,16.97 17.9,18.8 C18.38,20.63 19.62,22.13 20.3,23.6 C20.98,25.07 21.72,26.93 22,27.6"/>
<path d="M19.6,30 C20.22,30.15 21.7,31.27 23.3,30.9 C24.9,30.53 27.38,29.32 29.2,27.8 C31.02,26.28 32.85,23.88 34.2,21.8 C35.55,19.72 36.48,17.23 37.3,15.3 C38.12,13.37 38.8,11.05 39.1,10.2"/>
<path d="M20.6,28.6 C21.17,28.67 22.67,29.43 24,29 C25.33,28.57 27.1,27.37 28.6,26 C30.1,24.63 31.77,22.67 33,20.8 C34.23,18.93 35.23,16.57 36,14.8 C36.77,13.03 37.33,10.97 37.6,10.2"/>
<path d="M22,27.6 C22.5,27.5 23.9,27.57 25,27 C26.1,26.43 27.43,25.4 28.6,24.2 C29.77,23 31,21.43 32,19.8 C33,18.17 33.93,16.03 34.6,14.4 C35.27,12.77 35.77,10.73 36,10"/>
<path class="pet" d="M-7.4,0 C-5.55,-4.44 1.48,-5.55 7.4,-0.37 C1.48,5.55 -5.55,4.44 -7.4,0Z" transform="translate(30.6,-12.7) rotate(21)"/>
<path class="pet" d="M-7,0 C-5.25,-4.32 1.4,-5.4 7,-0.36 C1.4,5.4 -5.25,4.32 -7,0Z" transform="translate(30.8,0.2) rotate(0)"/>
<path class="pet" d="M-7.4,0 C-5.55,-4.32 1.48,-5.4 7.4,-0.36 C1.48,5.4 -5.55,4.32 -7.4,0Z" transform="translate(30.7,13.3) rotate(-22)"/>
<path d="M39.1,-9.3 L39.1,10.2 M40.9,-9.1 L40.9,10.3"/>
<path d="M40.9,-8.2 C41.33,-7.77 42.35,-6.15 43.5,-5.6 C44.65,-5.05 46.22,-4.85 47.8,-4.9 C49.38,-4.95 52.13,-5.73 53,-5.9"/>
<path d="M40.9,8.4 C41.13,8.2 41.35,7.58 42.3,7.2 C43.25,6.82 45.27,6.17 46.6,6.1 C47.93,6.03 49.03,6.5 50.3,6.8 C51.57,7.1 53.55,7.72 54.2,7.9"/>
<path d="M53,-5.9 L54.2,7.9 M54.8,-5.9 L56.1,7.0 M56.6,-5.7 L57.9,6.2 M58.4,-5.2 L59.8,5.8"/>
<path d="M53,-5.9 L58.4,-5.2 L61,-4.0 L62.5,-4.5 M54.2,7.9 L57.9,6.2 L59.8,5.8 L62.6,6.3 L63.4,5.9"/>
<path d="M61,-4.0 L62.6,6.3"/>
<path d="M62.5,-4.5 L71,-9.8 L85.4,-10 L90.2,-6.1 L90.7,7.1 L84.8,11.1 L70.4,11 L63.4,5.9Z"/>
<path d="M71,-9.8 L70.9,-4.4 L70.6,5.9 L70.4,11 M85.4,-10 L85.6,-4.9 L85,5.6 L84.8,11.1"/>
<path d="M62.5,-4.5 L70.9,-4.4 L85.6,-4.9 L90.2,-6.1 M63.4,5.9 L70.6,5.9 L85,5.6 L90.7,7.1"/>
</g>
</g>
<g class="can">
<path d="M597.8,126.6 L597.8,153.4 L605.6,159.3 L664.8,159.3 L672.6,153.4 L672.6,126.6"/>
<path d="M597.8,144 L672.6,144 M597.8,153.4 L672.6,153.4"/>
<path d="M635.4,159.3 L635.4,340"/>
<path d="M645.8,159.3 L645.8,170.4 L656,170.4 L656,159.3"/>
</g>
<g class="cab">
<path d="M649.5,170.4 C649.5,264 621.1,269.5 621.1,353"/>
<path d="M652.5,170.4 C652.5,264 624,269.5 624,353"/>
<ellipse cx="622.8" cy="354.3" rx="2" ry="2.2"/>
</g>
<g class="dim">
<path d="M597.8,128.4 L672.6,128.4"/>
<path d="M318.7,144 L429.3,144 M318.7,920.4 L432,920.4 M319.3,144 L319.3,524.7 M319.3,539.3 L319.3,920.4"/>
<path d="M461.3,856.7 L434.7,897 L496.7,937.5 M516.7,951.7 L579.7,992.5 L606.7,953.3"/>
<path d="M811.3,727.5 L837.9,744.5 L772.8,844.8 M760,861.3 L693,962 L666.5,945"/>
</g>
<path class="arr" d="M597.8,128.4 L609.8,126.7 L609.8,130.1Z"/>
<path class="arr" d="M672.6,128.4 L660.6,130.1 L660.6,126.7Z"/>
<path class="arr" d="M319.3,144 L321.3,156 L317.3,156Z"/>
<path class="arr" d="M319.3,920.4 L317.3,908.4 L321.3,908.4Z"/>
<path class="arr" d="M434.7,897 L444.82,901.63 L442.95,904.47Z"/>
<path class="arr" d="M579.7,992.5 L569.58,987.87 L571.45,985.03Z"/>
<path class="arr" d="M837.9,744.5 L833.22,754.6 L830.39,752.71Z"/>
<path class="arr" d="M693,962 L697.68,951.9 L700.51,953.79Z"/>
<text x="620" y="128.2" style="letter-spacing:-0.4px">120</text>
<text x="298.6" y="539">1500</text>
<text x="465.8" y="951.7" style="letter-spacing:1.75px">280<tspan class="ast" dx="-1.3" dy="8.6">*</tspan><tspan dx="1.3" dy="-8.6">280</tspan></text>
<text x="749.2" y="860.4" style="letter-spacing:0.5px">420</text>
</svg>
</body>
</html>
